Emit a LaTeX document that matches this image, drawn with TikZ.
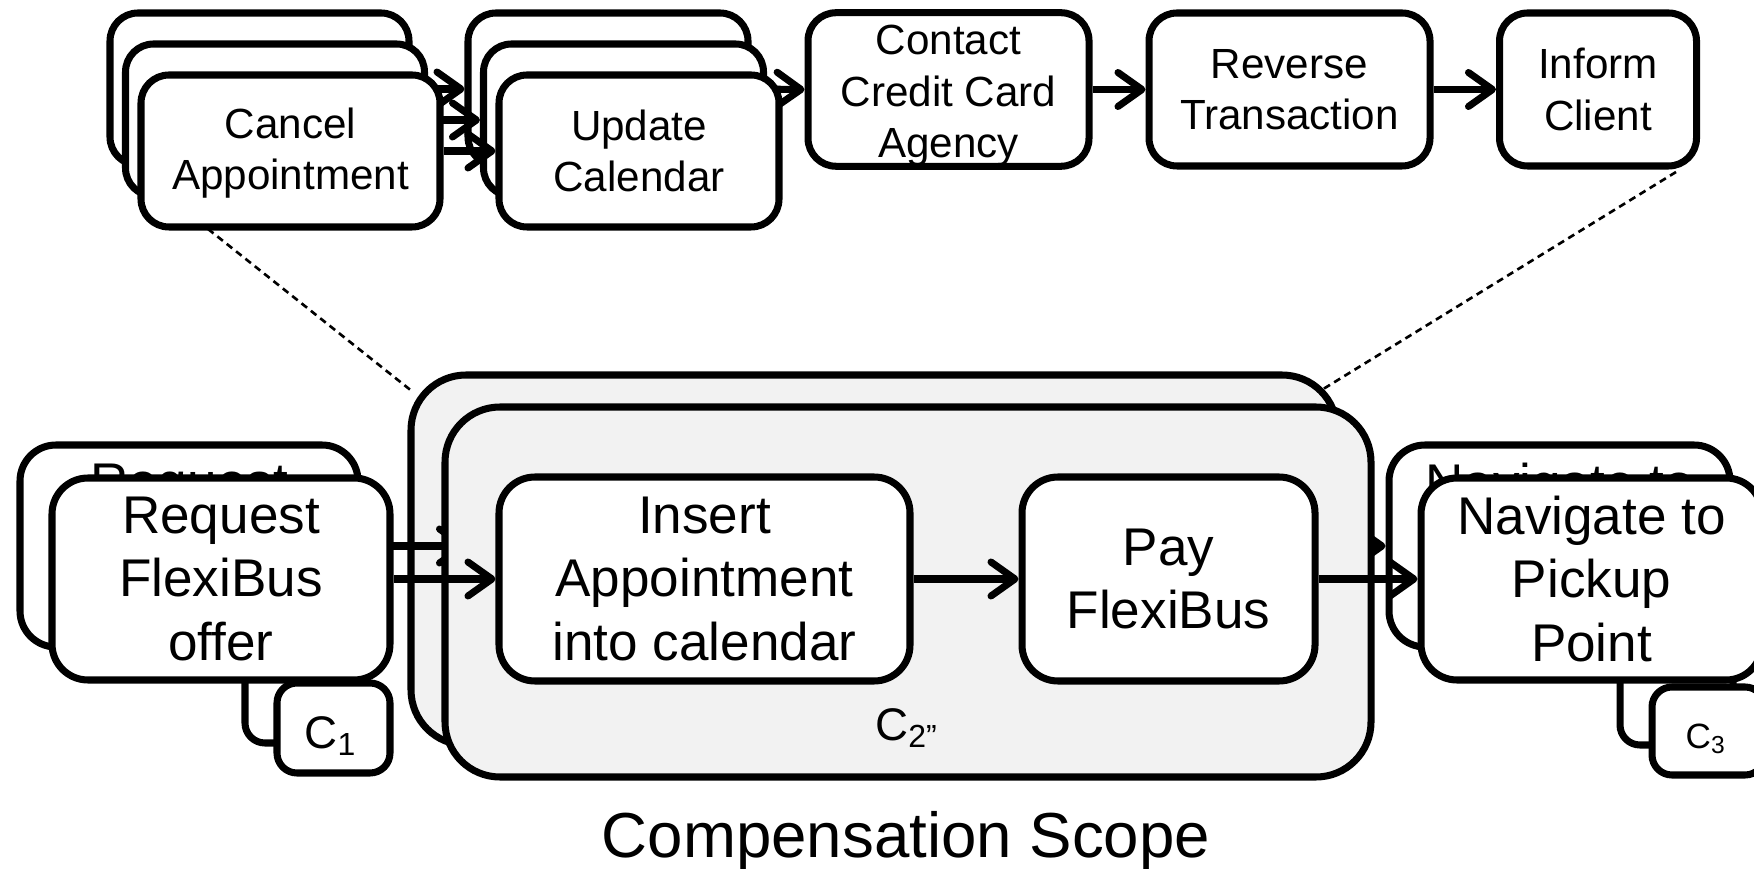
\documentclass[tikz,border=0pt]{standalone}
\usepackage{fontspec}
\setmainfont{Liberation Sans}
\usetikzlibrary{arrows.meta}
\definecolor{scopegray}{HTML}{F2F2F2}

\begin{document}
\begin{tikzpicture}[x=0.1mm, y=-0.1mm,
  box/.style={draw, line width=2pt, fill=white, inner sep=0pt, align=center},
  topbox/.style={box, rounded corners=2.8mm, font=\fontsize{12}{14.6}\selectfont},
  botbox/.style={box, rounded corners=3.6mm, font=\fontsize{15.1}{18}\selectfont},
  tagbox/.style={box, rounded corners=2mm},
  scopebox/.style={box, rounded corners=5.5mm, fill=scopegray},
  flow/.style={line width=2pt, -{Straight Barb[length=2.4mm, width=3.4mm, round]}},
  link/.style={line width=0.75pt, dash pattern=on 2pt off 1.4pt},
  tagtext/.style={anchor=base, inner sep=0pt, font=\fontsize{13}{13}\selectfont},
]
\fill[white] (0,0) rectangle (1754,869);
\useasboundingbox (0,0) rectangle (1754,869);

% dashed links from the compensation handler to the scope
\coordinate (d1a) at (208,229);
\coordinate (d1b) at (413,392);
\coordinate (d2a) at (1676,172);
\coordinate (d2b) at (1320,391);
\draw[link] (d1a) -- (d1b);
\draw[link] (d2a) -- (d2b);

% ---- compensation flow (top row) ----
\node[topbox, minimum width=28.1mm, minimum height=15.3mm] (contact) at (948.5,89.5) {\rule{0pt}{12pt}Contact\\Credit Card\\Agency};
\node[topbox, minimum width=28.1mm, minimum height=15.3mm] (reverse) at (1289.5,89.5) {Reverse\\Transaction};
\node[topbox, minimum width=19.7mm, minimum height=15.3mm] (inform) at (1598,89.5) {Inform\\Client};

% back layer of the multi-instance stacks
\node[topbox, minimum width=29.9mm, minimum height=15.2mm] (cancelB) at (259.5,89) {};
\node[topbox, minimum width=28mm, minimum height=15.2mm] (updateB) at (608,89) {};
\draw[flow] (cancelB.east) -- (updateB.west);
\draw[flow] (updateB.east) -- (contact.west);
% middle layer
\node[topbox, minimum width=29.9mm, minimum height=15.2mm] (cancelM) at (275,120) {};
\node[topbox, minimum width=28mm, minimum height=15.2mm] (updateM) at (623.5,120) {};
\draw[flow] (cancelM.east) -- (updateM.west);
% front layer
\node[topbox, minimum width=29.9mm, minimum height=15.2mm] (cancelF) at (290.5,151) {\rule{0pt}{10pt}Cancel\\Appointment};
\node[topbox, minimum width=28mm, minimum height=15.2mm] (updateF) at (639,151) {Update\\Calendar};
\draw[flow] (cancelF.east) -- (updateF.west);

\draw[flow] (contact) -- (reverse);
\draw[flow] (reverse) -- (inform);

% ---- main process (bottom row), back layer ----
\node[botbox, minimum width=33.8mm, minimum height=20.2mm] (requestB) at (189,546) {Request\\FlexiBus\\offer};
\node[tagbox, minimum width=11.3mm, minimum height=9mm] (cOneB) at (301.5,698) {};
\node[scopebox, minimum width=92.6mm, minimum height=37mm] (scopeB) at (874,560) {};
\node[botbox, minimum width=34.1mm, minimum height=20.2mm] (navB) at (1559.5,546) {Navigate to\\Pickup\\Point};
\node[tagbox, minimum width=11.3mm, minimum height=8.8mm] (cThreeB) at (1676.5,701) {};
\coordinate (insB) at (467,546);
\coordinate (payB) at (1283,546);
\draw[flow] (requestB.east) -- (insB);
\draw[flow] (payB) -- (navB.west);

% front layer
\node[botbox, minimum width=33.8mm, minimum height=20.2mm] (requestF) at (221,579) {Request\\FlexiBus\\offer};
\node[tagbox, minimum width=11.3mm, minimum height=9mm] (cOneF) at (333.5,728) {};
\node[tagtext] (cOneT) at (331,748) {C\textsubscript{1}};
\node[scopebox, minimum width=92.6mm, minimum height=37mm] (scopeF) at (908,592) {};
\node[tagtext] (scopeT) at (907,740) {C\textsubscript{2”}};
\node[botbox, minimum width=41.1mm, minimum height=20.4mm] (insert) at (704.5,579) {Insert\\Appointment\\into calendar};
\node[botbox, minimum width=29.3mm, minimum height=20.4mm] (pay) at (1168.5,579) {Pay\\FlexiBus};
\node[botbox, minimum width=34.1mm, minimum height=20.2mm] (navF) at (1591.5,579) {Navigate to\\Pickup\\Point};
\node[tagbox, minimum width=11.3mm, minimum height=8.8mm] (cThreeF) at (1708.5,731) {};
\node[tagtext, font=\fontsize{10}{10}\selectfont] (cThreeT) at (1706,748) {C\textsubscript{3}};

\draw[flow] (requestF) -- (insert);
\draw[flow] (insert) -- (pay);
\draw[flow] (pay) -- (navF);

\node[anchor=base, inner sep=0pt, font=\fontsize{18.1}{20}\selectfont] (title) at (906,857) {Compensation Scope};
\end{tikzpicture}
\end{document}
